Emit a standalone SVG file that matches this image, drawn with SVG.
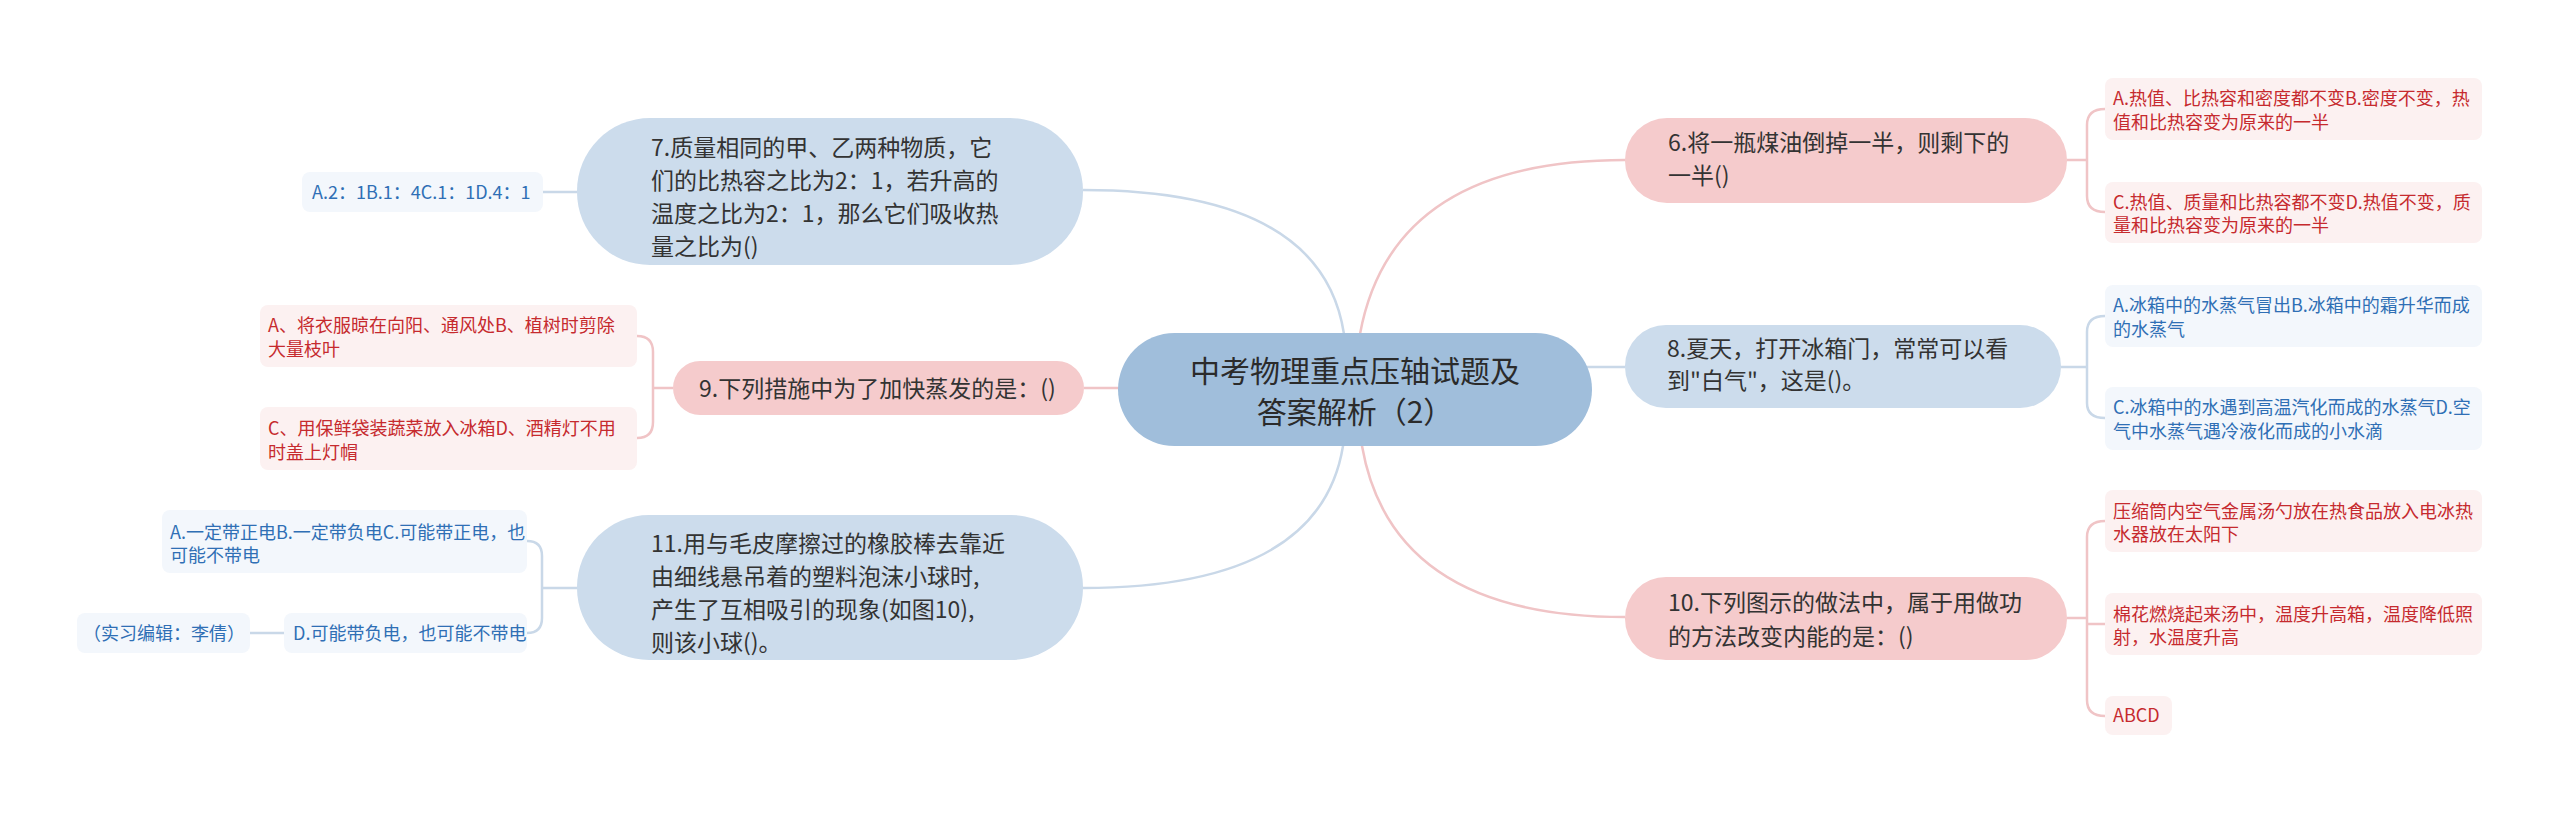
<svg xmlns="http://www.w3.org/2000/svg" width="2560" height="814" viewBox="0 0 2560 814">
<style>
text{font-family:"Noto Sans CJK SC","Noto Sans",sans-serif;}
.center{fill:#a0bedb;}
.bn{fill:#ccdcec;}
.pn{fill:#f5cbcc;}
.mt{font-size:23px;fill:#333333;}
.ct{font-size:30px;fill:#2b2b2b;}
.bc{fill:#f3f7fc;}
.pc{fill:#fcf1f1;}
.bt{font-size:18px;fill:#2f6fb5;}
.pt{font-size:18px;fill:#c62a2e;}
.lb{fill:none;stroke:#c9d8e8;stroke-width:2.5;}
.lp{fill:none;stroke:#f0c4c6;stroke-width:2.5;}
</style>
<rect width="2560" height="814" fill="#ffffff"/>
<g id="connectors">
<path class="lb" d="M1345 390 L1344 334 Q1322 190 1083 190"/>
<path class="lp" d="M1358 390 L1360 334 Q1392 160 1625 160"/>
<path class="lp" d="M1130 388 L1084 388"/>
<path class="lb" d="M1580 367 L1625 367"/>
<path class="lb" d="M1345 390 L1343 446 Q1320 588 1083 588"/>
<path class="lp" d="M1358 390 L1362 446 Q1392 617 1625 617"/>
<path class="lb" d="M577 192 L543 192"/>
<path class="lp" d="M673 388 L653 388 M637 336 Q653 336 653 352 L653 422 Q653 438 637 438"/>
<path class="lb" d="M577 588 L542 588 M527 541 Q542 541 542 556 L542 618 Q542 633 527 633"/>
<path class="lb" d="M284 633 L250 633"/>
<path class="lp" d="M2067 160 L2087 160 M2105 109 Q2087 109 2087 125 L2087 196 Q2087 212 2105 212"/>
<path class="lb" d="M2061 367 L2087 367 M2105 316 Q2087 316 2087 332 L2087 403 Q2087 418 2105 418"/>
<path class="lp" d="M2067 618 L2087 618 M2105 521 Q2087 521 2087 537 L2087 700 Q2087 716 2105 716 M2087 624 L2105 624"/>
</g>
<g id="center">
<rect class="center" x="1118" y="333" width="474" height="113" rx="56.5"/>
<text class="ct" x="1355" y="382" text-anchor="middle">中考物理重点压轴试题及</text>
<text class="ct" x="1355" y="423" text-anchor="middle">答案解析（2）</text>
</g>
<g id="node7">
<rect class="bn" x="577" y="118" width="506" height="147" rx="73"/>
<text class="mt" x="651" y="156">7.质量相同的甲、乙两种物质，它</text>
<text class="mt" x="651" y="189">们的比热容之比为2：1，若升高的</text>
<text class="mt" x="651" y="222">温度之比为2：1，那么它们吸收热</text>
<text class="mt" x="651" y="255">量之比为()</text>
</g>
<g id="node7a">
<rect class="bc" x="302" y="172" width="241" height="40" rx="8"/>
<text class="bt" x="312" y="199">A.2：1B.1：4C.1：1D.4：1</text>
</g>
<g id="node9">
<rect class="pn" x="673" y="361" width="411" height="54" rx="27"/>
<text class="mt" x="699" y="397">9.下列措施中为了加快蒸发的是：()</text>
</g>
<g id="node9a">
<rect class="pc" x="260" y="305" width="377" height="62" rx="8"/>
<text class="pt" x="268" y="332">A、将衣服晾在向阳、通风处B、植树时剪除</text>
<text class="pt" x="268" y="356">大量枝叶</text>
</g>
<g id="node9b">
<rect class="pc" x="260" y="407" width="377" height="63" rx="8"/>
<text class="pt" x="268" y="435">C、用保鲜袋装蔬菜放入冰箱D、酒精灯不用</text>
<text class="pt" x="268" y="459">时盖上灯帽</text>
</g>
<g id="node11">
<rect class="bn" x="577" y="515" width="506" height="145" rx="72"/>
<text class="mt" x="651" y="552">11.用与毛皮摩擦过的橡胶棒去靠近</text>
<text class="mt" x="651" y="585">由细线悬吊着的塑料泡沫小球时,</text>
<text class="mt" x="651" y="618">产生了互相吸引的现象(如图10),</text>
<text class="mt" x="651" y="651">则该小球()。</text>
</g>
<g id="node11a">
<rect class="bc" x="162" y="510" width="365" height="63" rx="8"/>
<text class="bt" x="170" y="539">A.一定带正电B.一定带负电C.可能带正电，也</text>
<text class="bt" x="170" y="562">可能不带电</text>
</g>
<g id="node11b">
<rect class="bc" x="284" y="613" width="243" height="40" rx="8"/>
<text class="bt" x="293" y="640">D.可能带负电，也可能不带电</text>
</g>
<g id="node11c">
<rect class="bc" x="77" y="613" width="173" height="40" rx="8"/>
<text class="bt" x="164" y="640" text-anchor="middle">（实习编辑：李倩）</text>
</g>
<g id="node6">
<rect class="pn" x="1625" y="118" width="442" height="85" rx="42"/>
<text class="mt" x="1668" y="151">6.将一瓶煤油倒掉一半，则剩下的</text>
<text class="mt" x="1668" y="184">一半()</text>
</g>
<g id="node6a">
<rect class="pc" x="2105" y="78" width="377" height="62" rx="8"/>
<text class="pt" x="2113" y="105">A.热值、比热容和密度都不变B.密度不变，热</text>
<text class="pt" x="2113" y="129">值和比热容变为原来的一半</text>
</g>
<g id="node6b">
<rect class="pc" x="2105" y="182" width="377" height="61" rx="8"/>
<text class="pt" x="2113" y="209">C.热值、质量和比热容都不变D.热值不变，质</text>
<text class="pt" x="2113" y="232">量和比热容变为原来的一半</text>
</g>
<g id="node8">
<rect class="bn" x="1625" y="325" width="436" height="83" rx="41"/>
<text class="mt" x="1667" y="357">8.夏天，打开冰箱门，常常可以看</text>
<text class="mt" x="1667" y="389">到"白气"，这是()。</text>
</g>
<g id="node8a">
<rect class="bc" x="2105" y="285" width="377" height="62" rx="8"/>
<text class="bt" x="2113" y="312">A.冰箱中的水蒸气冒出B.冰箱中的霜升华而成</text>
<text class="bt" x="2113" y="336">的水蒸气</text>
</g>
<g id="node8b">
<rect class="bc" x="2105" y="387" width="377" height="63" rx="8"/>
<text class="bt" x="2113" y="414">C.冰箱中的水遇到高温汽化而成的水蒸气D.空</text>
<text class="bt" x="2113" y="438">气中水蒸气遇冷液化而成的小水滴</text>
</g>
<g id="node10">
<rect class="pn" x="1625" y="577" width="442" height="83" rx="41"/>
<text class="mt" x="1668" y="611">10.下列图示的做法中，属于用做功</text>
<text class="mt" x="1668" y="645">的方法改变内能的是：()</text>
</g>
<g id="node10a">
<rect class="pc" x="2105" y="490" width="377" height="62" rx="8"/>
<text class="pt" x="2113" y="518">压缩筒内空气金属汤勺放在热食品放入电冰热</text>
<text class="pt" x="2113" y="541">水器放在太阳下</text>
</g>
<g id="node10b">
<rect class="pc" x="2105" y="593" width="377" height="62" rx="8"/>
<text class="pt" x="2113" y="621">棉花燃烧起来汤中，温度升高箱，温度降低照</text>
<text class="pt" x="2113" y="644">射，水温度升高</text>
</g>
<g id="node10c">
<rect class="pc" x="2105" y="696" width="67" height="39" rx="8"/>
<text class="pt" x="2113" y="722">ABCD</text>
</g>
</svg>
